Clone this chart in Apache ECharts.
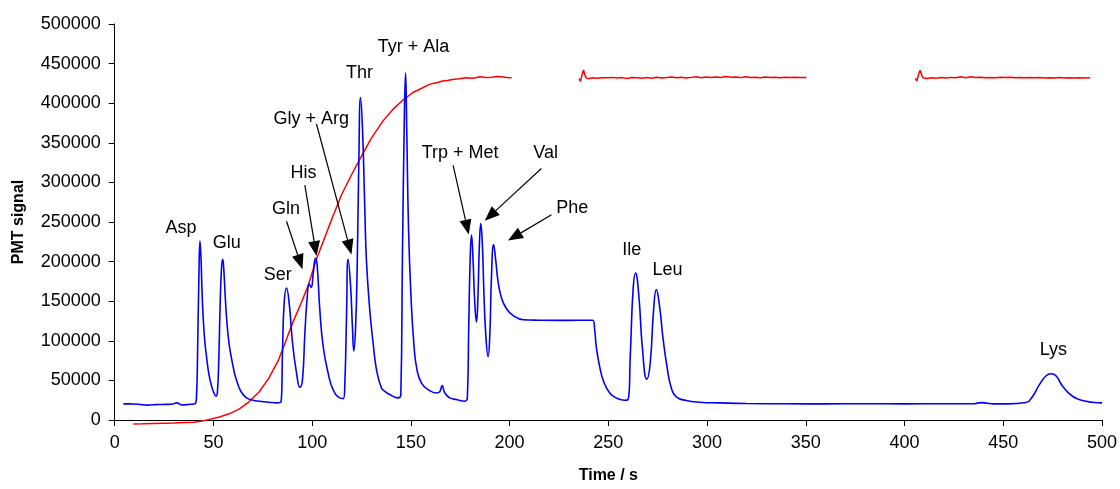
<!DOCTYPE html>
<html>
<head>
<meta charset="utf-8">
<script src="https://cdn.jsdelivr.net/npm/echarts@6/dist/echarts.min.js"></script>
<style>
html,body{margin:0;padding:0;background:#fff;}
#chart{width:1120px;height:489px;}
</style>
</head>
<body>
<div id="chart"></div>
<script>
// ---- Data (time in s, PMT signal) ----
const xTicks = [0, 50, 100, 150, 200, 250, 300, 350, 400, 450, 500];
const yTicks = [0, 50000, 100000, 150000, 200000, 250000, 300000, 350000, 400000, 450000, 500000];

const pmtSignal = [
[4.4,20400],[8,20300],[12,19900],[16.2,18800],[19,19300],[22,19500],[26.3,19700],[29.5,20300],[31.4,21600],[32.6,20600],[33.9,19000],[36,19300],[38.5,19800],[40.6,20400],
[41.4,28000],[42,90000],[42.6,175000],[43.2,226000],[43.7,205000],[44.2,165000],[44.8,130000],[45.6,100000],[46.5,80000],[47.7,58000],[49.1,42500],[50.3,34000],[51.3,30000],
[52,35000],[52.7,75000],[53.4,145000],[54.1,192000],[54.7,203000],[55.3,188000],[56,155000],[57,118000],[58,95000],[59,80000],[60,67000],[61,56000],[62,48000],[63,41000],[64.5,34000],[66.8,28000],[70,25000],[73.5,23750],[78,22500],[82,21600],[84.2,22500],
[85,88400],[85.8,146600],[87,166600],[88.4,146600],[90.1,96600],[92.1,59100],[93.8,41250],[95.1,50900],[96.3,109000],[97.5,155000],[98.5,171600],[99.5,167500],[100.5,184100],[101.7,204100],[102.5,196600],[103.9,138400],[105.6,92500],[108.1,59100],[110.6,38400],[114,27900],[115.8,27000],
[116.6,50000],[117.4,130000],[118.2,202900],[119.4,171600],[120.4,117500],[121.1,87100],[122,117500],[122.8,192500],[123.6,320000],[124.5,407100],[125.5,367500],[126.7,263400],[127.5,200900],[129.2,138400],[130.9,96600],[132.6,63400],[135.1,40400],[136.8,36250],[139.3,32100],[143.5,27900],[144.9,32000],
[145.7,200900],[146.6,367500],[147.3,438400],[147.9,367500],[148.8,242500],[150,159100],[151.5,96600],[153.1,63400],[155.4,46600],[158.7,38400],[163,34100],[164.7,36000],[165.8,43400],[167.2,34100],[169.7,27900],[173.1,25900],[177.3,23750],[178.6,28000],
[179.3,117500],[180,200900],[180.7,233400],[181.5,200900],[182.3,150900],[183.2,123750],[184,159100],[184.7,221600],[185.4,247900],[186.2,221600],[187,159100],[187.9,109100],[189.1,80000],[190,109100],[190.8,180000],[191.9,221600],[193,200900],[194.1,175900],[195.8,155000],[198.4,140400],[201.7,132100],[206.8,126600],[215,126000],[225,125800],[235,125900],[242.2,125900],
[243.1,113400],[243.9,92500],[245.6,67500],[247.6,48750],[250.7,34100],[254,27900],[258.2,25000],[259.9,25500],
[261.1,80000],[262.5,163400],[263.8,185400],[265.5,155000],[267.2,92500],[269.5,51600],[271.2,71600],[272.9,138400],[274.3,164600],[276,142500],[277.6,105000],[279.7,67500],[281.9,40400],[284.4,29100],[289.5,24600],[296.2,22500],[306.3,21600],[319.8,20800],
[340,20500],[360,20400],[380,20600],[400,20400],[420,20500],[435,20600],[438.8,22000],[442,21200],[444.8,20400],[452,20300],[461.5,22000],
[464.9,30000],[468.3,44600],[471.7,55900],[474.2,58400],[476.7,55900],[480.1,42500],[485.1,30000],[490.2,24600],[495,22500],[500,21600]
];

const gradientSeg1 = [
[9.4,-5000],[14,-4700],[20,-4300],[25,-4000],[30,-3700],[35,-3200],[40,-2700],[45,-1000],[48,800],[53,3700],[58,7800],[63,13800],[68,23000],[73,35000],[78,52500],[83,76000],[87,102000],[90,122000],[94,145000],[98,170000],[102,202000],[106,228000],[110,254000],[115,285000],[120,310000],[124.5,331000],[130,356000],[136,378000],[141,392500],[146,404000],[151,413500],[156,419500],[158.5,422800],[161,425000],[163.5,426200],[166,428000],[168.5,428600],[171,430000],[174.5,430800],[178,432000],[181.5,431600],[185,433500],[188,432600],[191,432900],[193.5,433800],[196,433300],[198.5,432500],[201,432100]
];
const gradientSeg2 = [
[235.2,431000],[235.9,427500],[236.7,436000],[237.4,442000],[238.1,436000],[238.8,432000],[240,431000],[242,432000],[244.5,431500],[247,432200],[249.5,432000],[252,432600],[254.5,431800],[257,432300],[259.5,431200],[262,432400],[264.5,432000],[267,431400],[269.5,432500],[272,431600],[274.5,432800],[277,431900],[279.5,432300],[282,433100],[284.5,432000],[287,432900],[289.5,431700],[292,432600],[294.5,433400],[297,432200],[299.5,433000],[302,432400],[304.5,433200],[307,432500],[309.5,433600],[312,432700],[314.5,433100],[317,432300],[319.5,433300],[322,432600],[324.5,432900],[327,432200],[329.5,433100],[332,432500],[334.5,432800],[337,432200],[339.5,432900],[342,432400],[344.5,432700],[347,432300],[350.4,432600]
];
const gradientSeg3 = [
[405.5,431500],[406.2,428000],[407.1,436000],[407.9,441500],[408.7,435500],[409.5,432000],[411,431200],[413.5,432000],[416,431600],[418.5,432300],[421,431800],[423.5,432600],[426,432000],[428.5,433300],[431,432100],[433.5,433500],[436,432400],[438.5,432800],[441,432000],[443.5,432600],[446,432100],[448.5,432900],[451,432300],[453.5,432700],[456,432000],[458.5,432400],[461,432100],[463.5,432500],[466,432000],[468.5,432300],[471,431800],[473.5,432200],[476,431900],[478.5,432300],[481,431800],[483.5,432100],[486,431700],[488.5,432200],[491,431900],[494,432200]
];

// Annotation labels (data coordinates: time, signal)
const labelTexts = ['Asp','Glu','Ser','Gln','His','Gly + Arg','Thr','Tyr + Ala','Trp + Met','Val','Phe','Ile','Leu','Lys'];
const labelAnchors = [
[33.6,241900],[56.8,223100],[82.6,183400],[86.7,266250],[95.6,311250],[99.6,380600],[124,438400],[151.3,471250],[174.9,337500],[218.2,337100],[231.7,267500],[261.8,214100],[280,189600],[475.4,88400]
];
// Arrows: [tailTime, tailSignal, headTime, headSignal]
const arrowLines = [
[87,250900,95.1,190400],
[96.3,296600,102.2,207100],
[102.2,373750,119.9,209100],
[171.4,321600,179.3,234100],
[216.1,317500,187.4,251600],
[221.2,259100,199.2,226600]
];

const FONT = '"Liberation Sans", Arial, Helvetica, sans-serif';
const chart = echarts.init(document.getElementById('chart'), null, {renderer:'canvas'});

const redStyle = {type:'line', showSymbol:false, symbol:'none', clip:false, lineStyle:{color:'#ff0000', width:1.5}, itemStyle:{color:'#ff0000'}, z:2, silent:true};

chart.setOption({
  animation:false,
  backgroundColor:'#ffffff',
  grid:{left:114.7, right:17.3, top:24, bottom:65, containLabel:false},
  xAxis:{
    type:'value', min:xTicks[0], max:xTicks[xTicks.length-1], interval:xTicks[1]-xTicks[0],
    name:'Time / s', nameLocation:'middle', nameGap:48,
    nameTextStyle:{fontFamily:FONT, fontSize:16, fontWeight:'bold', color:'#000'},
    axisLine:{show:true, onZero:false, lineStyle:{color:'#000', width:1}},
    axisTick:{show:true, inside:false, length:6, lineStyle:{color:'#000'}},
    axisLabel:{fontFamily:FONT, fontSize:18, color:'#000', margin:14, formatter:function(v){return String(v);}},
    splitLine:{show:false}
  },
  yAxis:{
    type:'value', min:yTicks[0], max:yTicks[yTicks.length-1], interval:yTicks[1]-yTicks[0],
    name:'PMT signal', nameLocation:'middle', nameGap:88,
    nameTextStyle:{fontFamily:FONT, fontSize:16, fontWeight:'bold', color:'#000'},
    axisLine:{show:true, lineStyle:{color:'#000', width:1}},
    axisTick:{show:true, inside:false, length:6, lineStyle:{color:'#000'}},
    axisLabel:{fontFamily:FONT, fontSize:18, color:'#000', margin:14, formatter:function(v){return String(v);}},
    splitLine:{show:false}
  },
  series:[
    Object.assign({name:'Gradient 1', data:gradientSeg1}, redStyle),
    Object.assign({name:'Gradient 2', data:gradientSeg2}, redStyle),
    Object.assign({name:'Gradient 3', data:gradientSeg3}, redStyle),
    {name:'PMT', type:'line', data:pmtSignal, showSymbol:false, symbol:'none', smooth:0.5,
     lineStyle:{color:'#0000ff', width:1.6}, itemStyle:{color:'#0000ff'}, z:3, silent:true},
    {name:'arrows', type:'custom', data:arrowLines, z:5, silent:true, clip:false,
     encode:{x:[0,2], y:[1,3]},
     renderItem:function(params, api){
       const p1 = api.coord([api.value(0), api.value(1)]);
       const p2 = api.coord([api.value(2), api.value(3)]);
       const dx = p2[0]-p1[0], dy = p2[1]-p1[1];
       const L = Math.sqrt(dx*dx+dy*dy), ux = dx/L, uy = dy/L;
       const hl = 15, hw = 6;
       const bx = p2[0]-ux*hl, by = p2[1]-uy*hl;
       return {type:'group', children:[
         {type:'line', shape:{x1:p1[0], y1:p1[1], x2:bx, y2:by}, style:{stroke:'#000', lineWidth:1.2}},
         {type:'polygon', shape:{points:[[p2[0],p2[1]],[bx-uy*hw, by+ux*hw],[bx+uy*hw, by-ux*hw]]}, style:{fill:'#000'}}
       ]};
     }
    },
    {name:'labels', type:'custom', data:labelAnchors, z:6, silent:true, clip:false,
     renderItem:function(params, api){
       const p = api.coord([api.value(0), api.value(1)]);
       return {type:'text', x:p[0], y:p[1], style:{text:labelTexts[params.dataIndex], fontFamily:FONT, fontSize:18, fill:'#000', align:'center', verticalAlign:'middle'}};
     }
    }
  ]
});
</script>
</body>
</html>
